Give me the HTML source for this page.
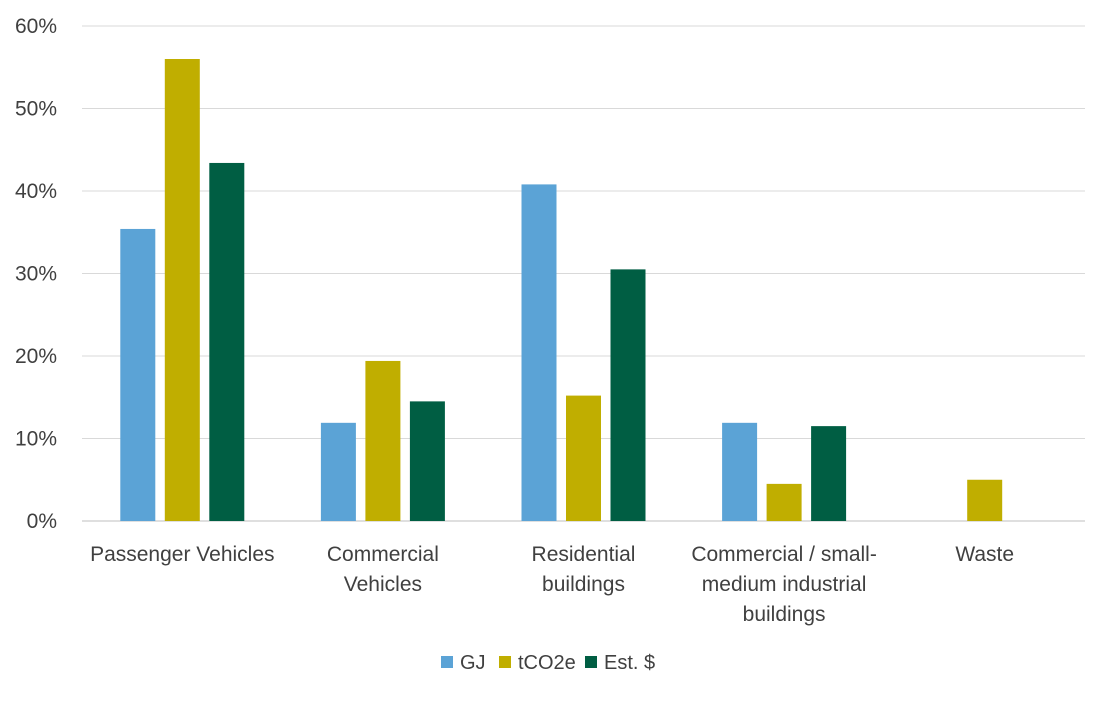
<!DOCTYPE html>
<html><head><meta charset="utf-8"><style>
body{margin:0;background:#fff;}
svg text{font-family:"Liberation Sans",sans-serif;fill:#404040;}
</style></head><body>
<svg id="chart" width="1108" height="697" xmlns="http://www.w3.org/2000/svg"></svg>
<script>
const categories=[["Passenger Vehicles"],["Commercial","Vehicles"],["Residential","buildings"],["Commercial / small-","medium industrial","buildings"],["Waste"]];
const seriesNames=["GJ","tCO2e","Est. $"];
const gj=[35.4,11.9,40.8,11.9,0];
const tco2e=[56.0,19.4,15.2,4.5,5.0];
const est=[43.4,14.5,30.5,11.5,0];
const yTicks=[0,10,20,30,40,50,60];
const colors=["#5BA3D6","#C0AE00","#005E43"];
const series=[gj,tco2e,est];
const NS="http://www.w3.org/2000/svg";
const svg=document.getElementById('chart');
const x0=82,x1=1085,y0=521,yTop=26;
const y=v=>y0-(v/60)*(y0-yTop);
const bandW=(x1-x0)/categories.length;
const cx=i=>x0+bandW*(i+0.5);
function mk(tag,attrs){const e=document.createElementNS(NS,tag);for(const k in attrs)e.setAttribute(k,attrs[k]);svg.appendChild(e);return e;}
yTicks.forEach(t=>{
  const l=mk('line',{x1:x0,x2:x1,y1:y(t),y2:y(t),stroke:t===0?'#BFBFBF':'#D9D9D9','stroke-width':1});
  
  
  const tx=mk('text',{x:57,y:y(t)+7,'text-anchor':'end','font-size':21});
  tx.textContent=t+'%';
  
  
});
const bw=35,step=44.5;
categories.forEach((c,i)=>{
  series.forEach((s,j)=>{
    const v=s[i];if(v<=0)return;
    const bx=cx(i)+(j-1)*step-bw/2;
    const r=mk('rect',{x:bx,y:y(v),width:bw,height:y0-y(v),fill:colors[j]});
    
    
  });
  c.forEach((line,k)=>{
    const t=mk('text',{x:cx(i),y:561+k*30,'text-anchor':'middle','font-size':21});
    t.textContent=line;
    
    
  });
});
const legX=[441,499,585];
seriesNames.forEach((n,j)=>{
  const r=mk('rect',{x:legX[j],y:656,width:12,height:12,fill:colors[j]});
  
  
  const t=mk('text',{x:legX[j]+19,y:669,'font-size':20});
  t.textContent=n;
  
  
});
</script>
</body></html>
